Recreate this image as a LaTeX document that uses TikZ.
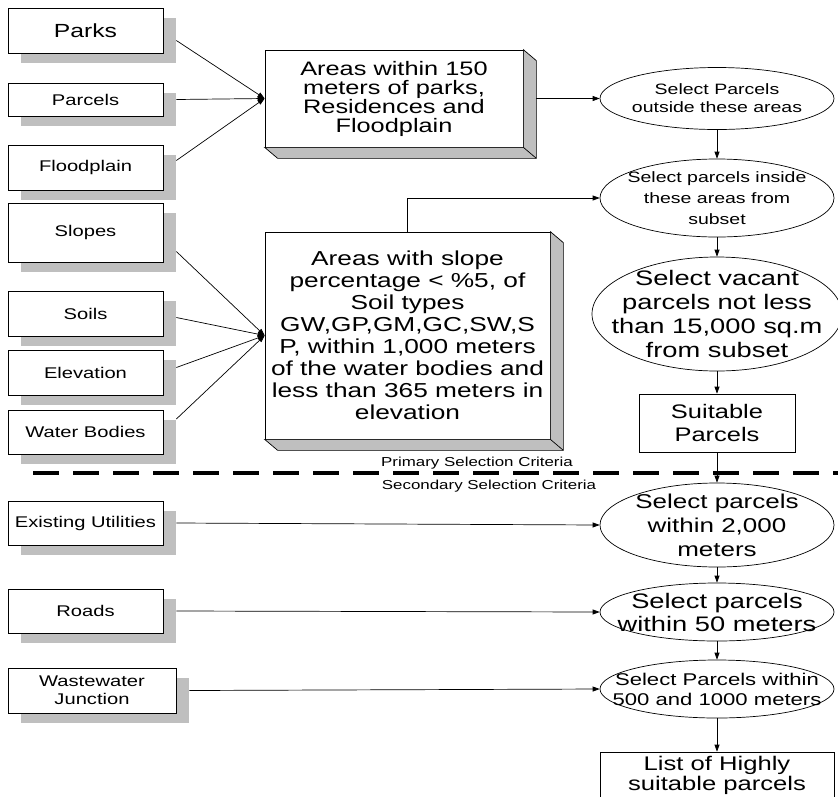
\documentclass[tikz,border=0pt]{standalone}
\usepackage{fontspec}
\newfontfamily\flowfont{Liberation Sans}[FakeStretch=1.3]
\usetikzlibrary{shapes.geometric,shadows,arrows.meta}

\tikzset{
  srcbox/.style={draw, fill=white, line width=0.7pt, inner sep=0pt,
    minimum width=155pt, minimum height=45pt, align=center,
    font=\flowfont\fontsize{15.5pt}{18pt}\selectfont,
    drop shadow={shadow xshift=13pt, shadow yshift=-10pt, fill=black!25, opacity=1}},
  areabox/.style={draw, fill=white, line width=0.7pt, inner sep=0pt, align=center},
  selell/.style={ellipse, draw, fill=white, line width=0.7pt, inner sep=-60pt,
    minimum width=234pt, align=center},
  resbox/.style={draw, fill=white, line width=0.7pt, inner sep=0pt, align=center},
  arr/.style={-{Triangle[length=7pt,width=5pt]}, line width=0.7pt},
  face/.style={fill=black!25, draw=black, line width=0.7pt},
}

% grey depth of a raised box
\newcommand{\boxdepth}[1]{%
  \filldraw[face] (#1.north east) -- ([shift={(13,11)}]#1.north east)
    -- ([shift={(13,11)}]#1.south east) -- ([shift={(13,11)}]#1.south west)
    -- (#1.south west) -- (#1.south east) -- cycle;
  \draw[line width=0.7pt] (#1.south east) -- ([shift={(13,11)}]#1.south east);}

\begin{document}
\begin{tikzpicture}[x=1pt, y=-1pt]

\useasboundingbox[fill=white] (0,0) rectangle (838,796);
\clip (0,0) rectangle (838,796);

% input layers
\node[srcbox, font=\flowfont\fontsize{19pt}{22pt}\selectfont] (parks) at (85.5,30.5) {Parks};
\node[srcbox, minimum height=33pt] (parcels) at (85.5,99.5) {Parcels};
\node[srcbox] (flood) at (85.5,167.5) {Floodplain};
\node[srcbox, minimum height=59pt] (slopes) at (85.5,232.5) {Slopes};
\node[srcbox] (soils) at (85.5,313.5) {Soils};
\node[srcbox] (elev) at (85.5,372.5) {Elevation};
\node[srcbox, minimum height=44pt] (water) at (85.5,432) {Water Bodies};
\node[srcbox, minimum height=44pt] (util) at (85.5,523) {Existing Utilities};
\node[srcbox, minimum height=44pt] (roads) at (85.5,611) {Roads};
\node[srcbox, minimum width=168pt] (waste) at (92,690.5) {Wastewater\\Junction};

% raised boxes
\node[areabox, minimum width=258pt, minimum height=97pt,
  font=\flowfont\fontsize{19.5pt}{19pt}\selectfont] (areaA) at (394,98.5)
  {Areas within 150\\meters of parks,\\Residences and\\Floodplain};
\boxdepth{areaA}
\node[areabox, minimum width=285pt, minimum height=207pt,
  font=\flowfont\fontsize{20.2pt}{22pt}\selectfont] (areaB) at (407.5,335.5)
  {Areas with slope\\percentage < \%5, of\\Soil types\\GW,GP,GM,GC,SW,S\\P, within 1,000 meters\\of the water bodies and\\less than 365 meters in\\elevation};
\boxdepth{areaB}

% selection steps
\node[selell, minimum height=62pt, font=\flowfont\fontsize{15pt}{18pt}\selectfont]
  (selA) at (717,98.5) {Select Parcels\\outside these areas};
\node[selell, minimum height=78pt, font=\flowfont\fontsize{15pt}{21pt}\selectfont]
  (selB) at (717,198) {Select parcels inside\\these areas from\\subset};
\node[selell, minimum width=250pt, minimum height=114pt,
  font=\flowfont\fontsize{21pt}{24pt}\selectfont]
  (selC) at (717,314) {Select vacant\\parcels not less\\than 15,000 sq.m\\from subset};
\node[resbox, minimum width=156pt, minimum height=58pt,
  font=\flowfont\fontsize{19.6pt}{23pt}\selectfont]
  (suit) at (717,423) {Suitable\\Parcels};
\node[selell, minimum height=84pt, font=\flowfont\fontsize{20pt}{24pt}\selectfont]
  (selD) at (717,525) {Select parcels\\within 2,000\\meters};
\node[selell, minimum height=58pt, font=\flowfont\fontsize{21pt}{23pt}\selectfont]
  (selE) at (717,612) {Select parcels\\within 50 meters};
\node[selell, minimum height=58pt, font=\flowfont\fontsize{17pt}{20pt}\selectfont]
  (selF) at (717,689) {Select Parcels within\\500 and 1000 meters};
\node[resbox, minimum width=234pt, minimum height=46pt,
  font=\flowfont\fontsize{19.7pt}{20pt}\selectfont]
  (list) at (717,775) {List of Highly\\suitable parcels};

% primary / secondary split
\draw[line width=3.5pt, dash pattern=on 26pt off 14pt] (33,473) -- (838,473);
\node[font=\flowfont\fontsize{13pt}{15pt}\selectfont] (prim) at (477,463) {Primary Selection Criteria};
\node[font=\flowfont\fontsize{13pt}{15pt}\selectfont] (sec) at (489,486) {Secondary Selection Criteria};

% connectors
\draw[arr] ([shift={(13,10)}]parks.east) -- (areaA.west);
\draw[arr] ([xshift=13pt]parcels.east) -- (areaA.west);
\draw[arr] ([shift={(13,-7)}]flood.east) -- (areaA.west);
\draw[arr] ([shift={(13,19)}]slopes.east) -- (areaB.west);
\draw[arr] ([shift={(13,4)}]soils.east) -- (areaB.west);
\draw[arr] ([shift={(13,-5)}]elev.east) -- (areaB.west);
\draw[arr] ([shift={(13,-13)}]water.east) -- (areaB.west);

\draw[arr] ([xshift=13pt]areaA.east) -- (selA.west);
\draw[arr] (areaB.north) |- (selB.west);
\draw[arr] (selA) -- (selB);
\draw[arr] (selB) -- (selC);
\draw[arr] (selC) -- (suit);
\draw[arr] (suit) -- (selD);

\draw[arr] ([xshift=13pt]util.east) -- (selD.west);
\draw[arr] ([xshift=13pt]roads.east) -- (selE.west);
\draw[arr] ([xshift=13pt]waste.east) -- (selF.west);
\draw[arr] (selD) -- (selE);
\draw[arr] (selE) -- (selF);
\draw[arr] (selF) -- (list);

\end{tikzpicture}
\end{document}
